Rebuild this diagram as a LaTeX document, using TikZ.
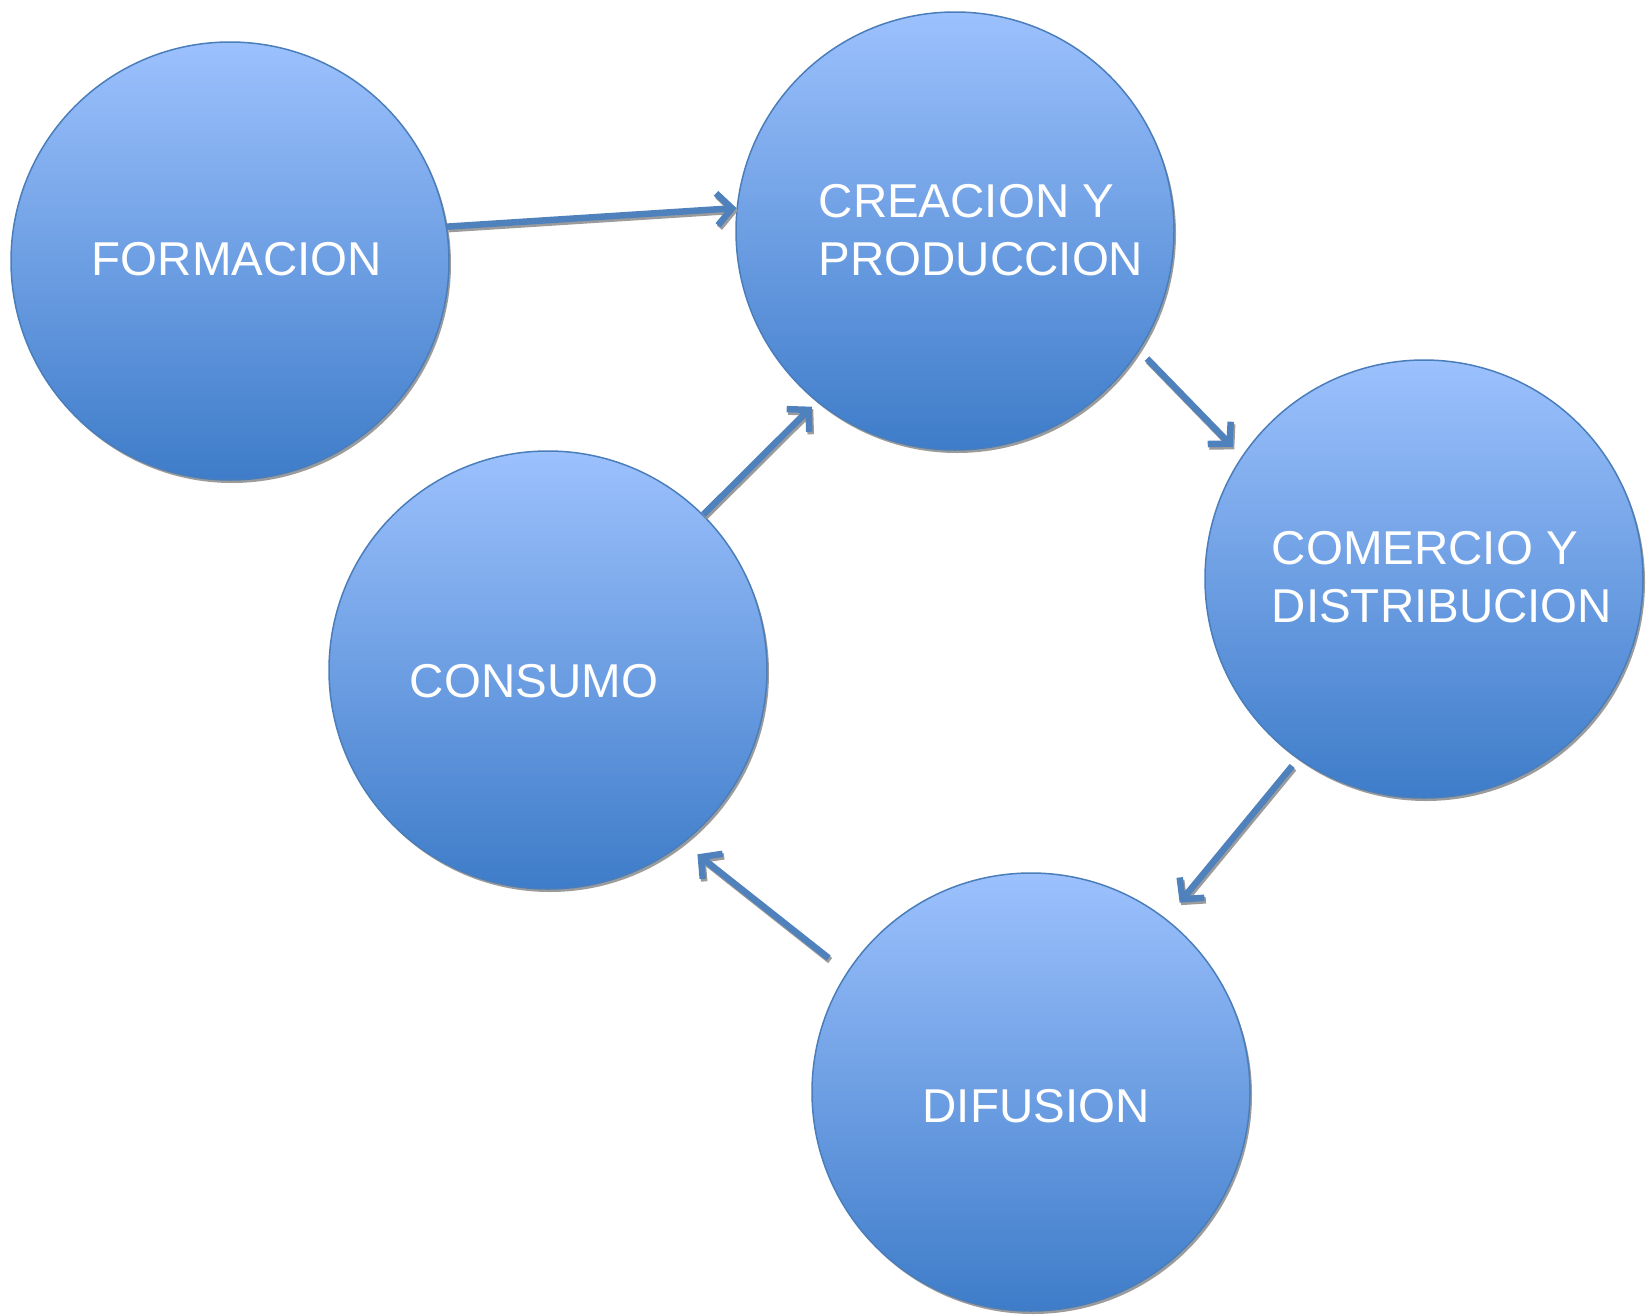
\documentclass[tikz,border=0pt]{standalone}
\usepackage{fontspec}
\setmainfont{Liberation Sans}
\usetikzlibrary{arrows.meta,shadows}
\definecolor{topblue}{RGB}{156,193,253}
\definecolor{botblue}{RGB}{62,124,201}
\definecolor{edgeblue}{RGB}{74,126,187}
\definecolor{arrblue}{RGB}{79,129,189}
\definecolor{shgray}{RGB}{155,155,155}
\begin{document}
\begin{tikzpicture}[x=1pt,y=-1pt,
 bubble/.style={circle, minimum size=438pt, inner sep=0pt, draw=edgeblue, line width=1.5pt,
   top color=topblue, bottom color=botblue,
   drop shadow={shadow xshift=2pt, shadow yshift=-3pt, fill=shgray, opacity=1}},
 lbl/.style={text=white, font=\fontsize{47.5}{58}\selectfont, align=left, inner sep=0pt},
 arr/.style={line width=6.5pt, draw=arrblue, -{Straight Barb[length=15pt,width=32pt]}},
 arrsh/.style={arr, draw=shgray, transform canvas={shift={(1.5pt,-2.5pt)}}}]
\path[use as bounding box] (0,0) rectangle (1647,1315);

\node[bubble] (form) at (230,261) {};
\node[bubble] (crea) at (955,231) {};
\node[bubble] (com)  at (1424,579) {};
\node[bubble] (con)  at (548,670) {};
\node[bubble] (dif)  at (1031,1092) {};

\node[lbl] (tform) at (237,259) {FORMACION};
\node[lbl] (tcrea) at (981,230) {CREACION Y\\PRODUCCION};
\node[lbl] (tcom)  at (1442,577) {COMERCIO Y\\DISTRIBUCION};
\node[lbl] (tcon)  at (534,681) {CONSUMO};
\node[lbl] (tdif)  at (1036,1106) {DIFUSION};

\foreach \a/\b/\s/\t in {form.9.5/crea.174.3/0/0, crea.-33.6/com.146/11/13,
    con.45/crea.-129.8/0/7, com.235.5/dif.52.5/9/21, dif.147.5/con.-52.4/23/18}{
  \draw[arrsh, shorten <=\s pt, shorten >=\t pt] (\a) -- (\b);
  \draw[arr, shorten <=\s pt, shorten >=\t pt] (\a) -- (\b);
}
\end{tikzpicture}
\end{document}
